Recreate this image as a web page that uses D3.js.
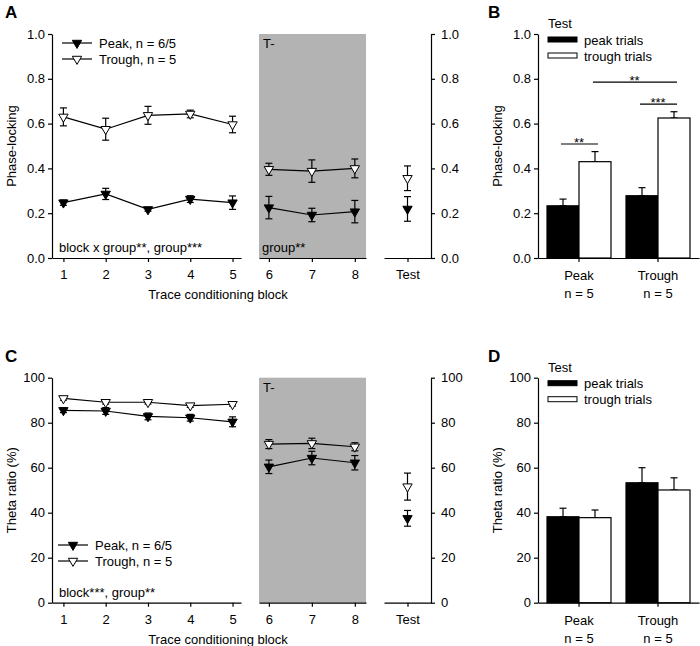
<!DOCTYPE html>
<html><head><meta charset="utf-8">
<script src="https://cdn.jsdelivr.net/npm/d3@7"></script>
<style>body{margin:0;background:#fff} svg{display:block} text{font-family:"Liberation Sans",Arial,sans-serif}</style>
</head><body><svg id="c" width="700" height="646"></svg>
<script>
// ---------- data ----------
const blocksTrain = [1, 2, 3, 4, 5];
const blocksTminus = [6, 7, 8];
const testCat = ["Test"];
const groups = ["Peak", "Trough"];
const groupN = ["n = 5", "n = 5"];
const trialTypes = ["peak trials", "trough trials"];

// Panel A: phase-locking (blocks 1-8)
const plPeak = [0.247, 0.286, 0.217, 0.263, 0.247, 0.225, 0.192, 0.207];
const plPeakErr = [0.012, 0.025, 0.008, 0.015, 0.03, 0.05, 0.03, 0.05];
const plTrough = [0.63, 0.575, 0.637, 0.643, 0.596, 0.396, 0.388, 0.40];
const plTroughErr = [0.04, 0.049, 0.04, 0.017, 0.037, 0.027, 0.05, 0.042];
const plTestPeak = [0.219], plTestPeakErr = [0.055];
const plTestTrough = [0.356], plTestTroughErr = [0.055];

// Panel B: phase-locking test bars (groups Peak, Trough)
const plBarPeakTrials = [0.233, 0.278], plBarPeakTrialsErr = [0.03, 0.036];
const plBarTroughTrials = [0.43, 0.625], plBarTroughTrialsErr = [0.045, 0.028];

// Panel C: theta ratio (%)
const thPeak = [85.5, 85.2, 82.8, 82.2, 80.4, 60.4, 64.3, 62.2];
const thPeakErr = [1.0, 1.5, 1.5, 1.5, 2.2, 3.0, 3.0, 3.2];
const thTrough = [90.8, 89.1, 89.1, 87.6, 88.2, 70.5, 70.8, 69.3];
const thTroughErr = [0.8, 0.8, 0.8, 0.8, 0.8, 2.0, 2.3, 1.8];
const thTestPeak = [37.5], thTestPeakErr = [3.5];
const thTestTrough = [51.6], thTestTroughErr = [6.0];

// Panel D: theta ratio test bars
const thBarPeakTrials = [38.2, 53.3], thBarPeakTrialsErr = [3.8, 6.7];
const thBarTroughTrials = [37.8, 50.1], thBarTroughTrialsErr = [3.4, 5.4];

const plTicks = [0, 0.2, 0.4, 0.6, 0.8, 1.0];
const thTicks = [0, 20, 40, 60, 80, 100];

// ---------- drawing ----------
const svg = d3.select("#c");
const FONT = "'Liberation Sans', Arial, sans-serif";
const FS = 13;
const SW = 1.2;

function styleAxis(g) {
  g.attr("font-family", null).attr("font-size", null);
  g.selectAll("text").attr("font-size", FS).attr("font-family", FONT).attr("fill", "#000");
  g.selectAll("path,line").attr("stroke", "#000").attr("stroke-width", SW);
}
function txt(x, y, s, opts = {}) {
  const t = svg.append("text").attr("x", x).attr("y", y).text(s)
    .attr("font-size", opts.size || FS).attr("font-family", FONT).attr("fill", "#000");
  if (opts.anchor) t.attr("text-anchor", opts.anchor);
  if (opts.weight) t.attr("font-weight", opts.weight);
  return t;
}
function ylabel(x, y, s) {
  svg.append("text").attr("transform", `translate(${x},${y}) rotate(-90)`)
    .attr("text-anchor", "middle").attr("font-size", FS).attr("font-family", FONT).text(s);
}
const tri = d3.symbol().type(d3.symbolTriangle).size(38);
function marker(g, x, y, filled) {
  g.append("path").attr("d", tri()).attr("transform", `translate(${x},${y}) rotate(180)`)
    .attr("fill", filled ? "#000" : "#fff").attr("stroke", "#000").attr("stroke-width", 1);
}
function errBar(g, x, yTop, yBot, cap) {
  g.append("line").attr("x1", x).attr("x2", x).attr("y1", yTop).attr("y2", yBot).attr("stroke", "#000").attr("stroke-width", SW);
  g.append("line").attr("x1", x - cap).attr("x2", x + cap).attr("y1", yTop).attr("y2", yTop).attr("stroke", "#000").attr("stroke-width", SW);
  if (yBot !== null) g.append("line").attr("x1", x - cap).attr("x2", x + cap).attr("y1", yBot).attr("y2", yBot).attr("stroke", "#000").attr("stroke-width", SW);
}

function linePanel(o) {
  const y = d3.scaleLinear().domain([0, o.max]).range([o.y0, o.y1]);
  const x1 = d3.scaleLinear().domain([0.73, 5.2]).range([52, 241]);
  const x2 = d3.scaleLinear().domain([5.77, 8.26]).range([259, 366]);
  const x3 = d3.scalePoint().domain(testCat).range([384, 431]).padding(0.5);

  svg.append("rect").attr("x", x2.range()[0]).attr("y", o.y1)
    .attr("width", x2.range()[1] - x2.range()[0]).attr("height", o.y0 - o.y1).attr("fill", "#b3b3b3");

  // axes
  styleAxis(svg.append("g").attr("transform", `translate(52,0)`)
    .call(d3.axisLeft(y).tickValues(o.ticks).tickFormat(d3.format(o.fmt)).tickSize(4).tickSizeOuter(0).tickPadding(3)));
  styleAxis(svg.append("g").attr("transform", `translate(431,0)`)
    .call(d3.axisRight(y).tickValues(o.ticks).tickFormat(d3.format(o.fmt)).tickSize(4).tickSizeOuter(0).tickPadding(6)));
  styleAxis(svg.append("g").attr("transform", `translate(0,${o.y0})`)
    .call(d3.axisBottom(x1).tickValues(blocksTrain).tickFormat(d3.format("d")).tickSize(4).tickSizeOuter(0).tickPadding(8)));
  styleAxis(svg.append("g").attr("transform", `translate(0,${o.y0})`)
    .call(d3.axisBottom(x2).tickValues(blocksTminus).tickFormat(d3.format("d")).tickSize(4).tickSizeOuter(0).tickPadding(8)));
  styleAxis(svg.append("g").attr("transform", `translate(0,${o.y0})`)
    .call(d3.axisBottom(x3).tickSize(4).tickSizeOuter(0).tickPadding(8)));

  const g = svg.append("g");
  const series = [
    { v: o.trough, e: o.troughErr, tv: o.testTrough, te: o.testTroughErr, filled: false },
    { v: o.peak, e: o.peakErr, tv: o.testPeak, te: o.testPeakErr, filled: true }
  ];
  const line = d3.line().x(d => d[0]).y(d => d[1]);
  series.forEach(s => {
    const p1 = blocksTrain.map((b, i) => [x1(b), y(s.v[i])]);
    const p2 = blocksTminus.map((b, i) => [x2(b), y(s.v[i + 5])]);
    g.append("path").attr("d", line(p1)).attr("fill", "none").attr("stroke", "#000").attr("stroke-width", SW);
    g.append("path").attr("d", line(p2)).attr("fill", "none").attr("stroke", "#000").attr("stroke-width", SW);
  });
  series.forEach(s => {
    blocksTrain.forEach((b, i) => errBar(g, x1(b), y(s.v[i] + s.e[i]), y(s.v[i] - s.e[i]), 3.5));
    blocksTminus.forEach((b, i) => errBar(g, x2(b), y(s.v[i + 5] + s.e[i + 5]), y(s.v[i + 5] - s.e[i + 5]), 3.5));
    testCat.forEach((c, i) => errBar(g, x3(c), y(s.tv[i] + s.te[i]), y(s.tv[i] - s.te[i]), 3.5));
  });
  series.forEach(s => {
    blocksTrain.forEach((b, i) => marker(g, x1(b), y(s.v[i]), s.filled));
    blocksTminus.forEach((b, i) => marker(g, x2(b), y(s.v[i + 5]), s.filled));
    testCat.forEach((c, i) => marker(g, x3(c), y(s.tv[i]), s.filled));
  });

  // legend
  [["Peak, n = 6/5", true], ["Trough, n = 5", false]].forEach((d, i) => {
    const ly = o.legY + i * 16;
    g.append("line").attr("x1", o.legX).attr("x2", o.legX + 30).attr("y1", ly).attr("y2", ly).attr("stroke", "#000").attr("stroke-width", SW);
    marker(g, o.legX + 15, ly, d[1]);
    txt(o.legX + 37, ly + 4.7, d[0]);
  });

  txt(59, o.y0 - 6, o.stat1);
  if (o.stat2) txt(262, o.y0 - 6, o.stat2);
  txt(263, o.y1 + 14, "T-");
  txt(218, o.y0 + 41, "Trace conditioning block", { anchor: "middle" });
  ylabel(16, (o.y0 + o.y1) / 2, o.ylab);
  txt(5, o.y1 - 16, o.letter, { size: 17, weight: "bold" });
}

function barPanel(o) {
  const y = d3.scaleLinear().domain([0, o.max]).range([o.y0, o.y1]);
  const x = d3.scaleBand().domain(groups).range([538, 699]).paddingInner(0.19).paddingOuter(0.114);
  const xs = d3.scaleBand().domain(trialTypes).range([0, x.bandwidth()]);

  styleAxis(svg.append("g").attr("transform", `translate(538,0)`)
    .call(d3.axisLeft(y).tickValues(o.ticks).tickFormat(d3.format(o.fmt)).tickSize(4).tickSizeOuter(0).tickPadding(3)));
  const ax = svg.append("g").attr("transform", `translate(0,${o.y0})`)
    .call(d3.axisBottom(x).tickSize(4).tickSizeOuter(0).tickPadding(9));
  styleAxis(ax);
  ax.selectAll("text").remove();

  const g = svg.append("g");
  const series = [
    { v: o.peakTrials, e: o.peakTrialsErr, fill: "#000", k: trialTypes[0] },
    { v: o.troughTrials, e: o.troughTrialsErr, fill: "#fff", k: trialTypes[1] }
  ];
  series.forEach(s => {
    groups.forEach((grp, i) => {
      const bx = x(grp) + xs(s.k);
      errBar(g, bx + xs.bandwidth() / 2, y(s.v[i] + s.e[i]), y(s.v[i]), 3.5);
      g.append("rect").attr("x", bx).attr("y", y(s.v[i])).attr("width", xs.bandwidth())
        .attr("height", o.y0 - y(s.v[i])).attr("fill", s.fill).attr("stroke", "#000").attr("stroke-width", SW);
    });
  });
  groups.forEach((grp, i) => {
    const cx = x(grp) + x.bandwidth() / 2;
    txt(cx, o.y0 + 22, grp, { anchor: "middle" });
    txt(cx, o.y0 + 40, groupN[i], { anchor: "middle" });
  });

  // legend
  txt(548, o.y1 - 6, "Test");
  trialTypes.forEach((t, i) => {
    const ly = o.y1 + 3 + i * 16;
    g.append("rect").attr("x", 548).attr("y", ly).attr("width", 29).attr("height", 5)
      .attr("fill", i === 0 ? "#000" : "#fff").attr("stroke", "#000").attr("stroke-width", 1);
    txt(584, ly + 7.5, t);
  });

  if (o.sig) {
    o.sig.forEach(s => {
      const a = x(groups[s.g1]) + xs(trialTypes[s.t1]) + xs.bandwidth() / 2;
      const b = x(groups[s.g2]) + xs(trialTypes[s.t2]) + xs.bandwidth() / 2;
      const ly = y(s.level);
      g.append("line").attr("x1", a - 2).attr("x2", b + 3).attr("y1", ly).attr("y2", ly).attr("stroke", "#000").attr("stroke-width", SW);
      txt((a + b) / 2, ly + 3, s.label, { anchor: "middle" });
    });
  }
  ylabel(502, (o.y0 + o.y1) / 2, o.ylab);
  txt(488, o.y1 - 16, o.letter, { size: 17, weight: "bold" });
}

linePanel({
  letter: "A", y0: 258, y1: 34, max: 1, ticks: plTicks, fmt: ".1f", ylab: "Phase-locking",
  peak: plPeak, peakErr: plPeakErr, trough: plTrough, troughErr: plTroughErr,
  testPeak: plTestPeak, testPeakErr: plTestPeakErr, testTrough: plTestTrough, testTroughErr: plTestTroughErr,
  legX: 62, legY: 43, stat1: "block x group**, group***", stat2: "group**"
});
barPanel({
  letter: "B", y0: 258, y1: 34, max: 1, ticks: plTicks, fmt: ".1f", ylab: "Phase-locking",
  peakTrials: plBarPeakTrials, peakTrialsErr: plBarPeakTrialsErr,
  troughTrials: plBarTroughTrials, troughTrialsErr: plBarTroughTrialsErr,
  sig: [
    { g1: 0, t1: 0, g2: 0, t2: 1, level: 0.509, label: "**" },
    { g1: 1, t1: 0, g2: 1, t2: 1, level: 0.687, label: "***" },
    { g1: 0, t1: 1, g2: 1, t2: 1, level: 0.785, label: "**" }
  ]
});
linePanel({
  letter: "C", y0: 602.7, y1: 377.7, max: 100, ticks: thTicks, fmt: "d", ylab: "Theta ratio (%)",
  peak: thPeak, peakErr: thPeakErr, trough: thTrough, troughErr: thTroughErr,
  testPeak: thTestPeak, testPeakErr: thTestPeakErr, testTrough: thTestTrough, testTroughErr: thTestTroughErr,
  legX: 58, legY: 545, stat1: "block***, group**", stat2: null
});
barPanel({
  letter: "D", y0: 602.7, y1: 377.7, max: 100, ticks: thTicks, fmt: "d", ylab: "Theta ratio (%)",
  peakTrials: thBarPeakTrials, peakTrialsErr: thBarPeakTrialsErr,
  troughTrials: thBarTroughTrials, troughTrialsErr: thBarTroughTrialsErr,
  sig: null
});
</script></body></html>
